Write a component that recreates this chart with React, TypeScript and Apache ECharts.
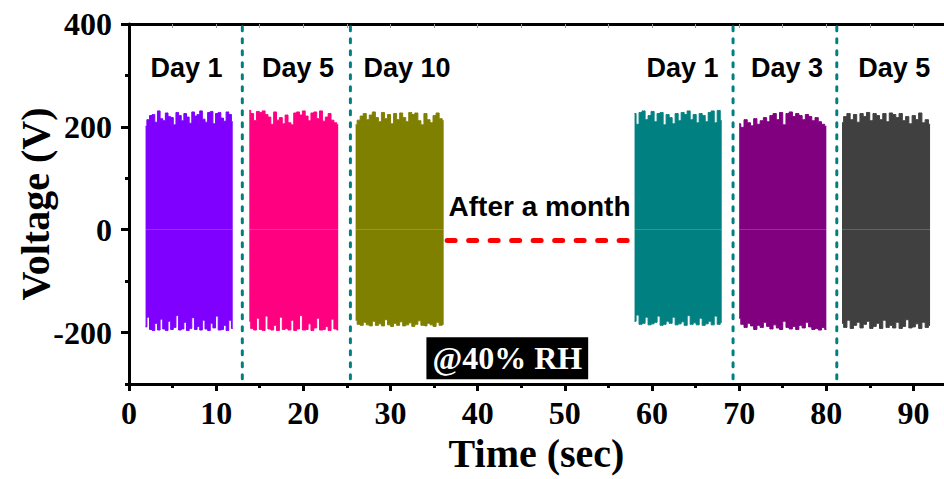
import React, { useEffect, useRef } from 'react';
import * as echarts from 'echarts';

// ---- data ----
const blockNames = ['Day 1', 'Day 5', 'Day 10', 'Day 1', 'Day 3', 'Day 5'];
const blockColors = ['#7F00FF', '#FF0080', '#808000', '#008080', '#800080', '#404040'];
const blockStart = [1.9, 13.8, 26.0, 58.0, 70.0, 81.8];
const blockEnd = [11.9, 24.0, 36.1, 68.0, 80.0, 91.9];

const day1Top = [201, 214, 222, 224, 209, 231, 216, 212, 227, 220, 218, 204, 228, 222, 212, 226, 219, 207, 229, 221, 224, 231, 215, 209, 228, 230, 206, 226, 228, 217, 211, 229, 224, 210];
const day1Bottom = [-189, -170, -194, -196, -182, -195, -174, -193, -196, -178, -194, -190, -167, -195, -193, -180, -196, -192, -171, -194, -188, -195, -176, -193, -196, -182, -191, -168, -195, -194, -186, -196, -176, -192];
const day5Top = [232, 226, 212, 230, 228, 231, 224, 219, 205, 229, 213, 218, 206, 223, 208, 204, 227, 229, 223, 231, 221, 212, 227, 229, 216, 231, 211, 219, 226, 213, 208, 204];
const day5Bottom = [-178, -192, -195, -172, -194, -196, -168, -193, -195, -186, -196, -170, -194, -192, -195, -176, -196, -193, -167, -195, -194, -183, -196, -191, -172, -195, -194, -188, -196, -174, -193, -195];
const day10Top = [204, 213, 221, 226, 214, 223, 229, 218, 210, 228, 216, 224, 206, 226, 214, 227, 218, 210, 228, 224, 227, 212, 204, 226, 214, 208, 222, 227, 216, 212];
const day10Bottom = [-176, -184, -186, -180, -185, -187, -178, -186, -183, -187, -175, -185, -188, -182, -186, -179, -187, -185, -181, -188, -184, -177, -186, -187, -182, -185, -188, -180, -186, -184];
const month1Top = [226, 205, 228, 231, 214, 222, 230, 210, 226, 228, 204, 224, 218, 206, 226, 212, 228, 224, 231, 214, 224, 208, 226, 222, 210, 228, 231, 208, 232, 212];
const month1Bottom = [-178, -166, -184, -182, -170, -185, -183, -180, -168, -186, -184, -178, -182, -170, -185, -183, -179, -186, -167, -184, -181, -185, -172, -186, -183, -178, -185, -168, -184, -180];
const month3Top = [206, 199, 214, 208, 202, 216, 205, 212, 218, 210, 222, 226, 214, 228, 204, 226, 229, 220, 226, 222, 214, 224, 220, 212, 218, 210, 205, 201];
const month3Bottom = [-172, -184, -190, -182, -187, -194, -186, -190, -180, -188, -193, -185, -191, -194, -178, -190, -193, -188, -194, -186, -191, -180, -189, -194, -192, -195, -190, -194];
const month5Top = [208, 220, 226, 214, 224, 209, 226, 220, 228, 212, 226, 222, 214, 226, 210, 227, 224, 218, 226, 212, 220, 206, 222, 214, 227, 208, 214, 205];
const month5Bottom = [-182, -190, -176, -192, -186, -180, -191, -184, -178, -192, -188, -182, -192, -176, -190, -186, -191, -180, -192, -188, -175, -191, -189, -183, -192, -180, -190, -186];

const blockTops = [day1Top, day5Top, day10Top, month1Top, month3Top, month5Top];
const blockBottoms = [day1Bottom, day5Bottom, day10Bottom, month1Bottom, month3Bottom, month5Bottom];

const dividerTimes = [13.0, 25.4, 69.3, 81.2];
const dividerRange = [-290, 400];
const dayLabelTimes = [6.6, 19.4, 31.9, 63.5, 75.5, 87.8];
const dayLabelVoltage = 315;
const gapLineTimes = [36.5, 57.8];
const gapLineVoltage = -21;
const gapText = 'After a month';
const gapTextPos = [47.1, 45];
const rhText = '@40% RH';
const rhTextPos = [43.4, -250];

const xTicks = [0, 10, 20, 30, 40, 50, 60, 70, 80, 90];
const xMinorTicks = [5, 15, 25, 35, 45, 55, 65, 75, 85];
const xTopTicks = [5, 10, 15, 20, 25, 30, 35, 40, 45, 50, 55, 60, 65, 70, 75, 80, 85, 90];
const yTicks = [-200, 0, 200, 400];
const yMinorTicks = [-300, -100, 100, 300];
const xRange = [0, 93.5];
const yRange = [-300, 400];

const SERIF = '"Liberation Serif", "Times New Roman", serif';
const SANS = '"Liberation Sans", Arial, sans-serif';

export default function App() {
  const ref = useRef<HTMLDivElement>(null);
  useEffect(() => {
    document.body.style.margin = '0';
    if (!ref.current) return;
    const chart = echarts.init(ref.current, null, { renderer: 'svg' });

    const series: any[] = [];
    const addEdge = (vals: number[], i: number) => {
      const n = vals.length;
      const step = (blockEnd[i] - blockStart[i]) / (n - 1);
      series.push({
        type: 'line',
        xAxisIndex: 0,
        yAxisIndex: 0,
        data: vals.map((v, k) => [blockStart[i] + k * step, v]),
        step: 'middle',
        symbol: 'none',
        silent: true,
        lineStyle: { color: blockColors[i], width: 1 },
        areaStyle: { color: blockColors[i], opacity: 1 },
        z: 2,
      });
    };
    blockTops.forEach((vals, i) => addEdge(vals, i));
    blockBottoms.forEach((vals, i) => addEdge(vals, i));

    dividerTimes.forEach((t) => {
      series.push({
        type: 'line',
        xAxisIndex: 0,
        yAxisIndex: 0,
        data: [[t, dividerRange[0]], [t, dividerRange[1]]],
        symbol: 'none',
        silent: true,
        lineStyle: { color: '#008080', width: 3, type: [4, 8], cap: 'round' },
        z: 3,
      });
    });

    series.push({
      type: 'line',
      xAxisIndex: 0,
      yAxisIndex: 0,
      data: gapLineTimes.map((t) => [t, gapLineVoltage]),
      symbol: 'none',
      silent: true,
      lineStyle: { color: '#FF0000', width: 5, type: [8, 13.5], cap: 'round' },
      z: 3,
    });

    const labelData: any[] = blockNames.map((name, i) => ({
      value: [dayLabelTimes[i], dayLabelVoltage],
      name,
    }));
    labelData.push({ value: gapTextPos, name: gapText, label: { fontSize: 28 } });
    labelData.push({
      value: rhTextPos,
      name: rhText,
      label: {
        fontFamily: SERIF,
        fontSize: 32,
        color: '#fff',
        backgroundColor: '#000',
        padding: [6, 6, 4, 6],
      },
    });

    series.push({
      type: 'scatter',
      xAxisIndex: 0,
      yAxisIndex: 0,
      symbolSize: 1,
      itemStyle: { color: 'transparent', opacity: 1 },
      silent: true,
      data: labelData,
      label: {
        show: true,
        position: 'inside',
        formatter: '{b}',
        fontFamily: SANS,
        fontWeight: 'bold',
        fontSize: 27,
        color: '#000',
        opacity: 1,
        align: 'center',
        verticalAlign: 'middle',
      },
      z: 5,
    });

    // empty series for the secondary grid so its axes render
    series.push({
      type: 'line',
      xAxisIndex: 2,
      yAxisIndex: 1,
      data: [],
      symbol: 'none',
    });

    const gridRect = { left: 129, right: 0, top: 24, bottom: 95, containLabel: false, outerBoundsMode: 'none' };
    const tickLabelStyle = {
      fontFamily: SERIF,
      fontWeight: 'bold' as const,
      fontSize: 32,
      color: '#000',
    };

    chart.setOption({
      animation: false,
      backgroundColor: '#fff',
      grid: [gridRect, { ...gridRect }],
      xAxis: [
        {
          gridIndex: 0,
          type: 'value',
          position: 'bottom',
          min: xRange[0],
          max: xRange[1],
          splitLine: { show: false },
          axisLine: { show: true, onZero: false, lineStyle: { color: '#000', width: 3 } },
          axisTick: { show: true, customValues: xTicks, length: 7, lineStyle: { color: '#000', width: 3 } },
          axisLabel: { show: true, customValues: xTicks, margin: 13, ...tickLabelStyle },
          name: 'Time (sec)',
          nameLocation: 'middle',
          nameGap: 43,
          nameTextStyle: { fontFamily: SERIF, fontWeight: 'bold', fontSize: 40, color: '#000' },
        },
        {
          gridIndex: 0,
          type: 'value',
          position: 'top',
          min: xRange[0],
          max: xRange[1],
          splitLine: { show: false },
          axisLine: { show: true, onZero: false, lineStyle: { color: '#000', width: 3 } },
          axisTick: { show: true, inside: true, customValues: xTopTicks, length: 4, lineStyle: { color: '#999', width: 1 } },
          axisLabel: { show: false },
        },
        {
          gridIndex: 1,
          type: 'value',
          position: 'bottom',
          min: xRange[0],
          max: xRange[1],
          splitLine: { show: false },
          axisLine: { show: false, onZero: false },
          axisTick: { show: true, customValues: xMinorTicks, length: 4, lineStyle: { color: '#000', width: 3 } },
          axisLabel: { show: false },
        },
      ],
      yAxis: [
        {
          gridIndex: 0,
          type: 'value',
          position: 'left',
          min: yRange[0],
          max: yRange[1],
          splitLine: { show: false },
          axisLine: { show: true, onZero: false, lineStyle: { color: '#000', width: 3 } },
          axisTick: { show: true, customValues: yTicks, length: 8, lineStyle: { color: '#000', width: 3 } },
          axisLabel: { show: true, customValues: yTicks, margin: 17, ...tickLabelStyle },
          name: 'Voltage (V)',
          nameLocation: 'middle',
          nameGap: 74,
          nameMoveOverlap: false,
          nameTextStyle: { fontFamily: SERIF, fontWeight: 'bold', fontSize: 40, color: '#000' },
        },
        {
          gridIndex: 1,
          type: 'value',
          position: 'left',
          min: yRange[0],
          max: yRange[1],
          splitLine: { show: false },
          axisLine: { show: false, onZero: false },
          axisTick: { show: true, customValues: yMinorTicks, length: 4, lineStyle: { color: '#000', width: 3 } },
          axisLabel: { show: false },
        },
      ],
      series,
    });

    return () => chart.dispose();
  }, []);

  return <div ref={ref} style={{ width: 944, height: 479 }} />;
}
